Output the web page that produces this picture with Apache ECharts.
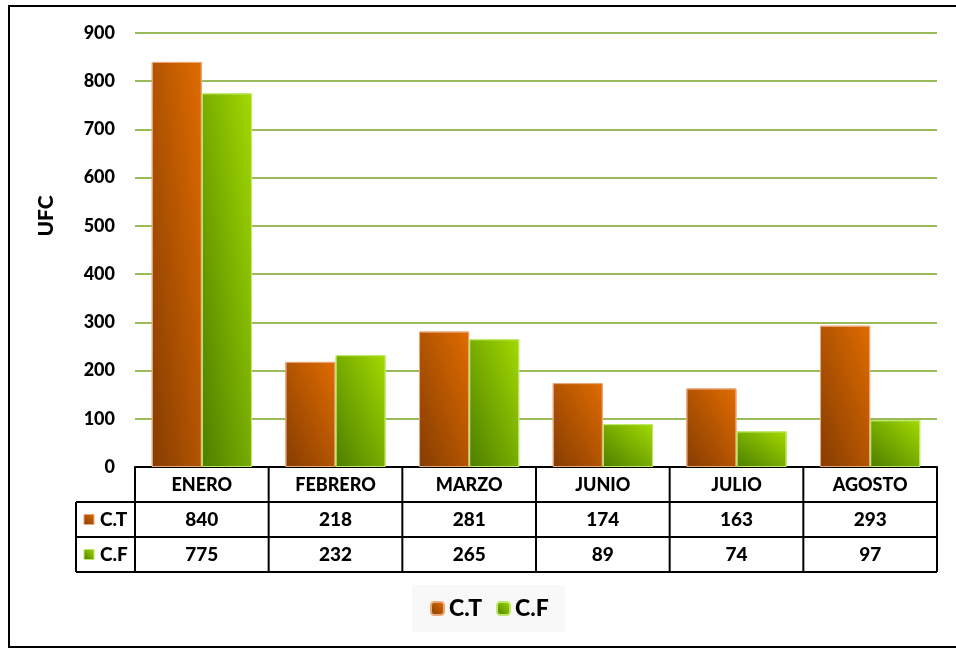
<!DOCTYPE html>
<html>
<head>
<meta charset="UTF-8">
<title>UFC</title>
<script src="https://cdn.jsdelivr.net/npm/echarts@6/dist/echarts.min.js"></script>
<style>
html, body { margin: 0; padding: 0; background: #fff; }
#main { width: 956px; height: 649px; }
</style>
</head>
<body>
<div id="main"></div>
<script type="text/javascript">
var categories = ['ENERO', 'FEBRERO', 'MARZO', 'JUNIO', 'JULIO', 'AGOSTO'];
var ctValues = [840, 218, 281, 174, 163, 293];
var cfValues = [775, 232, 265, 89, 74, 97];
var seriesNames = ['C.T', 'C.F'];

var FONT = 'Lato, "Open Sans", sans-serif';
var W = 900;
var orange = ['#853c02', '#e06c00'];
var green = ['#4c7e00', '#a3da00'];

var myChart = echarts.init(document.getElementById('main'));

// diagonal gradient scaled to the bar shape (bottom-left dark -> top-right light)
function barGrad(v, c) {
	var w = 50, h = Math.max(v * 434 / 900, 1);
	var k = 2 / (1 / (w * w) + 1 / (h * h));
	return new echarts.graphic.LinearGradient(0, 1, k / (w * w), 1 - k / (h * h), [
		{ offset: 0, color: c[0] },
		{ offset: 1, color: c[1] }
	]);
}
function keyGrad(c) {
	return new echarts.graphic.LinearGradient(0, 1, 1, 0, [
		{ offset: 0, color: c[0] },
		{ offset: 1, color: c[1] }
	]);
}
function makeData(vals, c) {
	return vals.map(function (v) {
		return { value: v, itemStyle: { color: barGrad(v, c) } };
	});
}

var option = {
	animation: false,
	grid: { left: 135, right: 19, top: 33, bottom: 182 },
	legend: {
		data: seriesNames,
		left: 412,
		top: 585,
		padding: [12, 16, 12, 18],
		backgroundColor: '#f8f8f8',
		itemWidth: 13,
		itemHeight: 13,
		itemGap: 14,
		selectedMode: false,
		textStyle: { fontFamily: FONT, fontSize: 23, fontWeight: W, color: '#000' }
	},
	xAxis: {
		type: 'category',
		data: categories,
		axisLine: { lineStyle: { color: '#000', width: 2 } },
		axisTick: { show: false },
		axisLabel: { fontFamily: FONT, fontSize: 18, fontWeight: W, color: '#000', margin: 9 }
	},
	yAxis: {
		type: 'value',
		min: 0,
		max: 900,
		interval: 100,
		axisLine: { show: false },
		axisTick: { show: false },
		axisLabel: { fontFamily: FONT, fontSize: 18, fontWeight: W, color: '#000', margin: 20 },
		splitLine: { lineStyle: { color: '#9bbb59', width: 2 } }
	},
	series: [{
		name: 'C.T',
		type: 'bar',
		barGap: '0%',
		barCategoryGap: '25%',
		itemStyle: { color: keyGrad(orange), borderColor: '#eba67a', borderWidth: 1 },
		data: makeData(ctValues, orange)
	}, {
		name: 'C.F',
		type: 'bar',
		itemStyle: { color: keyGrad(green), borderColor: '#bfe86a', borderWidth: 1 },
		data: makeData(cfValues, green)
	}]
};
myChart.setOption(option);

// data table under the axis, frame and axis title
function buildTable() {
	var els = [];
	var c0 = myChart.convertToPixel({ xAxisIndex: 0 }, 0);
	var c1 = myChart.convertToPixel({ xAxisIndex: 0 }, 1);
	var cw = c1 - c0;
	var top = myChart.convertToPixel({ yAxisIndex: 0 }, 0);
	var rowH = 35;
	var leftX = 76;
	var rightX = c0 - cw / 2 + cw * categories.length;
	var line = { stroke: '#000', lineWidth: 2 };

	for (var i = 0; i <= categories.length; i++) {
		var bx = c0 - cw / 2 + i * cw;
		els.push({ type: 'line', shape: { x1: bx, y1: top, x2: bx, y2: top + rowH * 3 }, style: line });
	}
	els.push({ type: 'line', shape: { x1: leftX, y1: top + rowH, x2: leftX, y2: top + rowH * 3 }, style: line });
	for (var r = 1; r <= 3; r++) {
		els.push({ type: 'line', shape: { x1: leftX, y1: top + rowH * r, x2: rightX, y2: top + rowH * r }, style: line });
	}

	var rows = [ctValues, cfValues];
	var cols = [orange, green];
	var borders = ['#eba67a', '#bfe86a'];
	for (var s = 0; s < rows.length; s++) {
		var cy = top + rowH * (s + 1) + rowH / 2;
		els.push({
			type: 'rect',
			shape: { x: 84, y: cy - 5, width: 10, height: 10 },
			style: { fill: keyGrad(cols[s]), stroke: borders[s], lineWidth: 1 }
		});
		els.push({
			type: 'text', x: 100, y: cy,
			style: { text: seriesNames[s], fontFamily: FONT, fontSize: 19, fontWeight: W, fill: '#000', align: 'left', verticalAlign: 'middle' }
		});
		for (var j = 0; j < categories.length; j++) {
			els.push({
				type: 'text', x: c0 + j * cw, y: cy,
				style: { text: String(rows[s][j]), fontFamily: FONT, fontSize: 19, fontWeight: W, fill: '#000', align: 'center', verticalAlign: 'middle' }
			});
		}
	}

	els.push({
		type: 'text', x: 46, y: 216, rotation: Math.PI / 2,
		style: { text: 'UFC', fontFamily: FONT, fontSize: 21, fontWeight: W, fill: '#000', align: 'center', verticalAlign: 'middle' }
	});
	els.push({
		type: 'rect', z: 100,
		shape: { x: 9, y: 6, width: 990, height: 641 },
		style: { fill: 'none', stroke: '#000', lineWidth: 2 }
	});

	myChart.setOption({ graphic: els });
}
buildTable();
</script>
</body>
</html>
